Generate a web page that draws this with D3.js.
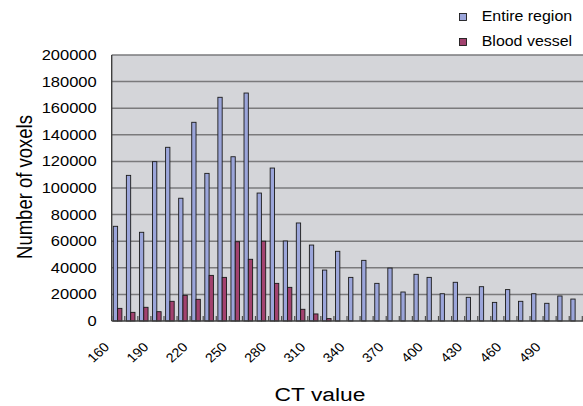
<!DOCTYPE html>
<html>
<head>
<meta charset="utf-8">
<script src="https://cdn.jsdelivr.net/npm/d3@7"></script>
<style>
  html, body { margin: 0; padding: 0; background: #ffffff; }
  svg { display: block; }
  text { font-family: "Liberation Sans", Arial, sans-serif; fill: #000; }
</style>
</head>
<body>
<svg id="chart" width="583" height="406"></svg>
<script>
// ---- data ----
const categories = ["160","170","180","190","200","210","220","230","240","250","260","270",
  "280","290","300","310","320","330","340","350","360","370","380","390",
  "400","410","420","430","440","450","460","470","480","490","500","510"];
const entireRegion = [71200,109500,66700,119800,130600,92300,149400,111000,168200,123500,171400,96200,
  115000,60150,73700,57100,38300,52400,32800,45600,28300,39800,21800,35100,
  32800,20500,29100,17800,25800,14000,23600,14800,20500,13300,18800,16500];
const bloodVessel = [9500,6500,10300,7000,14800,19300,16300,34300,32800,59600,46400,60000,
  28300,25300,8800,5300,1800,0,0,0,0,0,0,0,
  0,0,0,0,0,0,0,0,0,0,0,0];
const seriesNames = ["Entire region","Blood vessel"];
const seriesColors = ["#9ba5da","#a2426f"];
const yTicks = [0,20000,40000,60000,80000,100000,120000,140000,160000,180000,200000];
const xTickLabels = ["160","190","220","250","280","310","340","370","400","430","460","490"];

// ---- layout ----
const svg = d3.select("#chart");
const plot = {left: 111.7, right: 582.3, top: 55, bottom: 321};

const x = d3.scaleBand().domain(categories).range([plot.left, plot.right]).padding(0);
const xs = d3.scaleBand().domain(seriesNames).range([1.6, 10.2]).padding(0);
const y = d3.scaleLinear().domain([0, 200000]).range([plot.bottom, plot.top]);

// plot background
svg.append("rect").attr("x", plot.left).attr("y", plot.top)
  .attr("width", 583 - plot.left).attr("height", plot.bottom - plot.top)
  .attr("fill", "#d4d5d9");

// gridlines
svg.append("g").selectAll("line").data(yTicks.filter(d => d > 0)).join("line")
  .attr("x1", plot.left).attr("x2", 583)
  .attr("y1", d => y(d)).attr("y2", d => y(d))
  .attr("stroke", "#7a7a7c").attr("stroke-width", 1.5);

// bars
const groups = svg.append("g").selectAll("g").data(categories).join("g")
  .attr("transform", d => `translate(${x(d)},0)`);
groups.selectAll("rect").data((d, i) => [
    {s: seriesNames[0], v: entireRegion[i], c: seriesColors[0]},
    {s: seriesNames[1], v: bloodVessel[i], c: seriesColors[1]}
  ]).join("rect")
  .attr("x", d => xs(d.s))
  .attr("width", xs.bandwidth())
  .attr("y", d => y(d.v))
  .attr("height", d => y(0) - y(d.v))
  .attr("fill", d => d.c)
  .attr("stroke", d => d.v > 0 ? "#1a1a1a" : "none")
  .attr("stroke-width", 0.9);

// category tick marks (inside)
const bounds = categories.map(c => x(c)).concat([plot.right]);
svg.append("g").selectAll("line").data(bounds).join("line")
  .attr("x1", d => d).attr("x2", d => d)
  .attr("y1", plot.bottom - 5).attr("y2", plot.bottom)
  .attr("stroke", "#505050").attr("stroke-width", 1.2);

// axes lines
svg.append("line").attr("x1", plot.left).attr("x2", plot.left)
  .attr("y1", plot.top).attr("y2", plot.bottom)
  .attr("stroke", "#404040").attr("stroke-width", 1.4);
svg.append("line").attr("x1", plot.left).attr("x2", 583)
  .attr("y1", plot.bottom).attr("y2", plot.bottom)
  .attr("stroke", "#404040").attr("stroke-width", 1.4);

// y tick labels
svg.append("g").selectAll("text").data(yTicks).join("text")
  .attr("transform", d => `translate(96.7,${y(d) + 5}) scale(1.18,1)`)
  .attr("text-anchor", "end")
  .attr("font-size", 14)
  .text(d => d);

// x tick labels
svg.append("g").selectAll("text").data(xTickLabels).join("text")
  .attr("transform", d => `translate(${x(d) + x.bandwidth() / 2 - 8},348) scale(1.1,1) rotate(-45)`)
  .attr("text-anchor", "end")
  .attr("font-size", 13)
  .text(d => d);

// axis titles
svg.append("text")
  .attr("transform", `translate(31.5,187) scale(1.2,1) rotate(-90)`)
  .attr("text-anchor", "middle")
  .attr("font-size", 18.5)
  .text("Number of voxels");
svg.append("text")
  .attr("transform", `translate(320,401) scale(1.2,1)`)
  .attr("text-anchor", "middle")
  .attr("font-size", 19)
  .text("CT value");

// legend
const legend = svg.append("g").selectAll("g").data(seriesNames).join("g")
  .attr("transform", (d, i) => `translate(459.5,${13.5 + i * 25})`);
legend.append("rect").attr("width", 7).attr("height", 7)
  .attr("fill", (d, i) => seriesColors[i]).attr("stroke", "#1a1a1a").attr("stroke-width", 0.9);
legend.append("text")
  .attr("transform", `translate(22.2,7.6) scale(1.14,1)`)
  .attr("font-size", 14)
  .text(d => d);
</script>
</body>
</html>
